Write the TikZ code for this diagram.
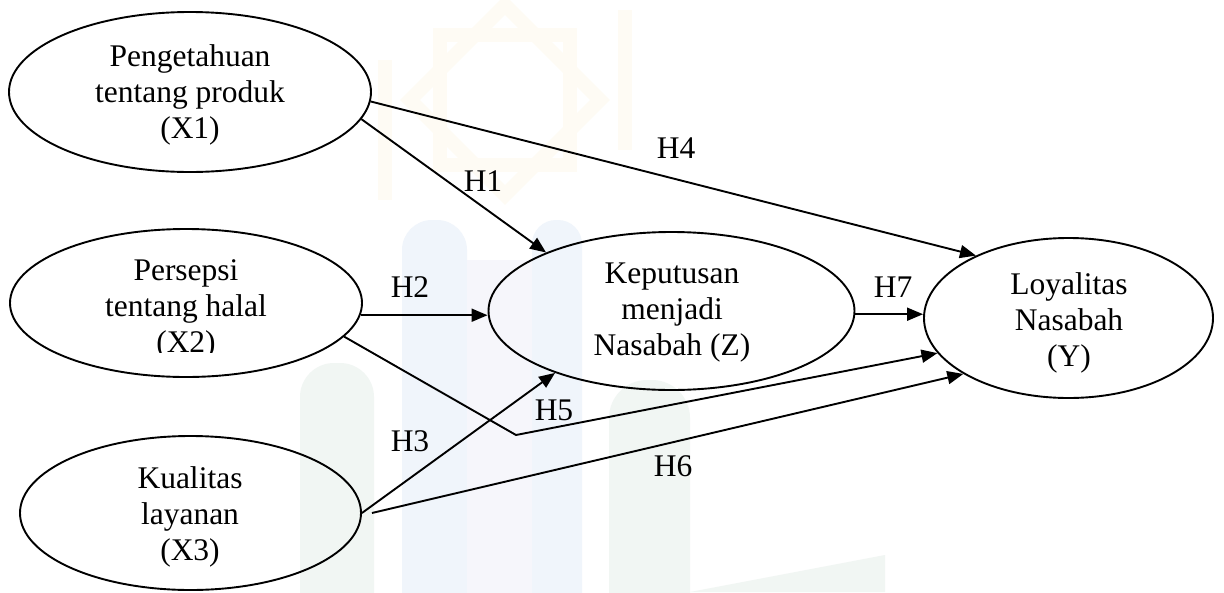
\documentclass[tikz,border=0pt]{standalone}
\usepackage{fontspec}
\setmainfont{Liberation Serif}
\usetikzlibrary{arrows.meta,shapes.geometric}
\definecolor{wmblue}{RGB}{240,245,251}
\definecolor{wmlav}{RGB}{246,246,251}
\definecolor{wmgreen}{RGB}{241,246,243}
\definecolor{wmgold}{RGB}{254,251,244}
\begin{document}
\begin{tikzpicture}[x=1pt,y=-1pt,
  latent/.style={draw=black, line width=1.9pt, ellipse, inner sep=0pt},
  txt/.style={inner sep=0pt, align=center, font=\fontsize{31.5}{36}\selectfont},
  lbl/.style={inner sep=0pt, font=\fontsize{31.5}{36}\selectfont},
  arr/.style={draw=black, line width=1.9pt, -{Triangle[length=16pt,width=13pt]}},
  wm/.style={line width=14pt, draw=wmgold, line join=miter}]
\clip (0,0) rectangle (1224,592);
\fill[white] (0,0) rectangle (1224,592);
% faint watermark
\draw[wm] (505,100) ++(0,-95) -- ++(95,95) -- ++(-95,95) -- ++(-95,-95) -- cycle;
\draw[wm] (440,35) rectangle (570,165);
\draw[wm] (385,60) -- (385,200);
\draw[wm] (625,10) -- (625,150);
\fill[wmgreen, rounded corners=34pt] (300,640) -- (300,363) -- (374,363) -- (374,640) -- cycle;
\fill[wmblue, rounded corners=30pt] (402,640) -- (402,220) -- (467,220) -- (467,640) -- cycle;
\fill[wmlav] (467,260) rectangle (532,640);
\fill[wmblue, rounded corners=24pt] (532,640) -- (532,220) -- (582,220) -- (582,640) -- cycle;
\fill[wmgreen, rounded corners=38pt] (609,640) -- (609,380) -- (690,380) -- (690,640) -- cycle;
\fill[wmgreen] (690,592) -- (885,555) -- (885,592) -- cycle;
% ellipses
\node[latent, minimum width=362pt, minimum height=160pt] (X1) at (190,92) {};
\node[latent, minimum width=352pt, minimum height=148pt] (X2) at (186,303) {};
\node[latent, minimum width=341pt, minimum height=154pt] (X3) at (190.5,513) {};
\node[latent, minimum width=366pt, minimum height=158pt] (Z) at (671.5,311) {};
\node[latent, minimum width=289pt, minimum height=160pt] (Y) at (1068.5,318) {};
% texts
\node[txt] (tX1) at (190,95) {Pengetahuan\\tentang produk\\(X1)};
\begin{scope}
\clip (0,0) rectangle (1224,352);
\node[txt] (tX2) at (186,309.5) {Persepsi\\tentang halal\\(X2)};
\end{scope}
\node[txt] (tX3) at (190,517) {Kualitas\\layanan\\(X3)};
\node[txt] (tZ) at (672,313) {Keputusan\\menjadi\\Nasabah (Z)};
\node[txt] (tY) at (1069,323) {Loyalitas\\Nasabah\\(Y)};
% connectors
\coordinate (bend) at (516,435);
\draw[arr] (X1.-9) -- (Z.155);
\draw[arr] (X1.-3.5) -- (Y.146);
\draw[arr] (X2.-4) -- (X2.-4 -| Z.west);
\draw[arr] (X2.-12) -- (bend) -- (Y.195);
\draw[arr] (X3.east) -- (Z.208);
\draw[arr] ([xshift=10pt]X3.east) -- (Y.208);
\draw[arr] (Z.-1) -- (Z.-1 -| Y.west);
% labels
\node[lbl] (h1) at (483,181) {H1};
\node[lbl] (h2) at (410,287) {H2};
\node[lbl] (h3) at (410,441) {H3};
\node[lbl] (h4) at (676,148) {H4};
\node[lbl] (h5) at (554,410) {H5};
\node[lbl] (h6) at (673,466) {H6};
\node[lbl] (h7) at (893,287) {H7};
\end{tikzpicture}
\end{document}
